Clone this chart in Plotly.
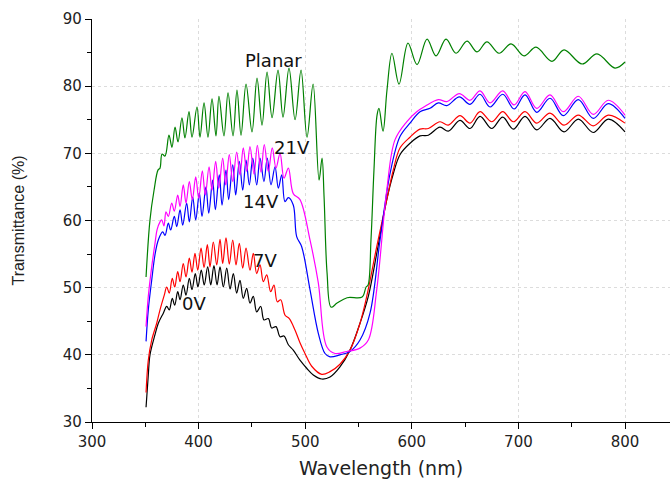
import plotly.graph_objects as go

# ---------------- data ----------------
planar_nm = [350.7, 354.4, 358.2, 361.9, 363.8, 365.7, 368.5, 372.2, 375.0, 377.9, 380.7, 384.4, 387.2,
             391.0, 393.8, 398.5, 401.3, 405.1, 408.8, 412.6, 416.3, 419.1, 423.8, 427.6, 432.3, 436.0,
             439.8, 444.5, 450.1, 454.8, 459.5, 464.2, 468.9, 474.5, 479.2, 484.8, 490.5, 496.1, 501.7,
             507.4, 513.0, 515.8, 517.7, 520.5, 524.3, 529.9, 539.3, 553.4, 557.1, 559.0, 561.7, 564.5,
             567.4, 569.2, 573.0, 576.7, 581.4, 588.0, 596.4, 604.9, 614.3, 622.7, 632.1, 641.5, 651.8,
             661.2, 670.5, 681.8, 693.1, 705.3, 716.5, 731.5, 742.8, 759.7, 773.7, 790.6, 800.0]
planar_T = [51.6, 60.1, 64.5, 67.5, 67.8, 69.9, 69.6, 72.7, 70.9, 73.9, 71.7, 75.3, 72.3,
            76.2, 72.4, 76.9, 72.4, 77.5, 72.4, 78.1, 72.6, 78.5, 72.6, 79.0, 72.6, 79.4,
            72.7, 80.3, 73.2, 81.2, 74.2, 82.1, 75.3, 82.4, 75.4, 82.7, 75.0, 82.4, 72.4,
            80.3, 66.0, 69.3, 63.5, 52.2, 47.1, 47.7, 48.5, 48.6, 50.1, 50.4, 57.1, 67.5,
            75.7, 76.7, 73.3, 79.4, 84.9, 80.3, 86.4, 83.2, 87.0, 84.5, 87.0, 84.9, 86.7,
            85.1, 86.6, 84.9, 86.3, 84.5, 85.8, 83.7, 85.4, 83.3, 84.8, 82.7, 83.6]

v21_nm = [350.7, 352.8, 356.0, 359.1, 361.0, 363.8, 365.4, 367.5, 369.4, 371.6, 374.8, 377.2, 380.4,
          382.6, 385.6, 388.2, 391.3, 394.1, 397.3, 400.1, 403.5, 406.3, 409.8, 412.6, 416.0, 418.9,
          422.6, 425.4, 428.8, 432.0, 435.7, 438.8, 441.9, 445.1, 448.2, 452.0, 455.1, 458.5, 461.6,
          465.4, 469.1, 472.6, 476.4, 480.1, 484.2, 488.8, 495.1, 504.5, 512.3, 520.2, 528.0, 538.9,
          551.4, 559.2, 567.1, 576.5, 584.2, 595.2, 604.6, 612.4, 624.9, 632.8, 644.6, 654.6, 664.0,
          673.4, 685.3, 695.9, 706.2, 717.2, 729.6, 742.1, 756.2, 770.2, 784.3, 800.0]
v21_T = [44.2, 48.7, 53.1, 56.6, 58.6, 59.8, 60.1, 59.2, 61.3, 60.6, 62.6, 61.4, 63.8,
         62.1, 65.3, 62.6, 65.8, 63.1, 66.5, 63.3, 67.4, 63.8, 68.0, 64.5, 68.8, 64.8,
         69.3, 65.3, 69.8, 65.8, 70.2, 66.8, 70.8, 67.3, 71.0, 66.9, 71.2, 67.2, 71.3,
         67.3, 70.8, 67.8, 70.0, 66.3, 67.8, 64.0, 63.1, 57.1, 50.7, 41.2, 40.2, 40.5,
         41.0, 42.2, 49.7, 64.5, 72.0, 74.7, 76.2, 77.0, 78.0, 77.7, 78.9, 77.9, 79.3,
         77.5, 79.3, 77.2, 79.2, 76.7, 78.7, 76.2, 78.5, 75.8, 77.9, 75.7]

v14_nm = [350.7, 352.8, 356.0, 359.1, 362.2, 366.3, 368.5, 371.6, 373.8, 377.2, 379.5, 382.6, 385.1,
          388.8, 391.3, 394.5, 397.3, 400.7, 403.2, 406.9, 409.5, 413.2, 415.7, 419.4, 422.0, 425.7,
          428.2, 432.0, 434.8, 438.2, 441.4, 444.5, 447.6, 450.8, 454.5, 457.6, 461.3, 464.4, 467.9,
          471.7, 474.8, 478.0, 481.0, 484.2, 488.8, 492.0, 496.7, 504.5, 512.3, 518.6, 523.3, 532.6,
          542.0, 551.4, 560.8, 570.2, 579.6, 588.9, 598.3, 607.7, 617.1, 624.9, 632.8, 644.6, 654.6,
          664.0, 673.4, 685.3, 695.9, 706.2, 717.2, 729.6, 742.1, 756.2, 770.2, 784.3, 800.0]
v14_T = [42.0, 46.7, 51.1, 54.9, 57.1, 58.3, 57.8, 59.6, 58.6, 60.6, 59.1, 61.6, 59.3,
         62.6, 59.8, 63.5, 60.1, 64.1, 60.6, 65.0, 61.1, 66.0, 61.6, 66.8, 62.3, 67.5,
         63.1, 68.3, 63.8, 68.8, 64.5, 69.0, 65.3, 69.3, 65.3, 69.3, 65.8, 69.3, 65.3,
         68.0, 64.8, 66.8, 62.8, 63.4, 62.3, 57.6, 56.1, 49.7, 43.2, 40.2, 39.7, 40.0,
         40.5, 42.2, 46.2, 57.1, 67.0, 72.5, 74.5, 76.2, 76.7, 77.5, 77.1, 78.4, 77.3,
         78.8, 76.9, 78.8, 76.6, 78.7, 76.1, 78.2, 75.6, 78.0, 75.2, 77.4, 75.2]

v7_nm = [350.7, 352.8, 356.0, 360.7, 363.8, 367.8, 370.1, 372.5, 375.3, 377.6, 380.4, 382.6, 385.6,
         388.2, 391.3, 393.8, 396.6, 399.2, 402.3, 405.1, 408.2, 410.7, 413.8, 417.0, 420.1, 422.6,
         425.7, 428.8, 432.0, 435.1, 438.2, 441.4, 444.5, 448.2, 451.3, 454.5, 457.6, 460.7, 463.9,
         467.6, 470.7, 473.8, 477.0, 481.1, 485.1, 490.4, 495.1, 499.8, 506.1, 515.5, 523.3, 532.6,
         542.0, 551.4, 557.7, 567.1, 576.5, 582.6, 588.9, 598.3, 607.7, 615.5, 626.4, 634.2, 645.2,
         654.6, 664.0, 675.0, 685.3, 695.2, 706.2, 717.2, 729.6, 742.8, 756.2, 770.2, 784.3, 800.0]
v7_T = [34.4, 39.2, 42.2, 44.7, 46.7, 48.9, 50.1, 49.2, 51.4, 50.1, 52.4, 50.9, 53.6,
        51.6, 54.4, 52.3, 55.1, 52.6, 55.9, 53.0, 56.4, 53.1, 56.8, 53.4, 57.2, 53.6,
        57.4, 53.5, 57.1, 53.4, 56.6, 52.9, 55.9, 52.6, 55.1, 52.1, 53.4, 50.9, 51.9,
        49.4, 50.4, 47.9, 48.2, 45.9, 45.4, 43.7, 41.8, 40.2, 38.3, 37.1, 37.5, 38.6,
        40.7, 44.7, 48.7, 56.1, 63.1, 67.5, 70.8, 72.4, 73.6, 73.7, 74.7, 74.2, 75.6,
        74.5, 76.2, 74.7, 76.2, 74.7, 76.2, 74.5, 76.0, 74.2, 75.7, 74.1, 75.7, 74.5]

v0_nm = [350.7, 352.8, 354.4, 359.1, 362.2, 366.9, 370.1, 372.5, 375.3, 377.6, 380.4, 382.6, 385.6,
         388.2, 391.3, 393.8, 396.9, 399.4, 402.5, 405.3, 408.5, 411.4, 414.4, 417.3, 420.1, 423.2,
         426.4, 429.5, 432.6, 435.7, 438.8, 441.9, 445.1, 448.2, 451.3, 454.5, 458.3, 461.3, 465.4,
         468.6, 472.6, 476.4, 480.1, 484.2, 488.8, 495.1, 501.4, 507.6, 515.5, 523.3, 532.6, 542.0,
         551.4, 559.2, 567.1, 576.5, 582.7, 588.9, 598.3, 607.7, 615.5, 626.4, 634.2, 645.2, 654.6,
         664.0, 675.0, 685.3, 695.2, 706.2, 717.2, 729.6, 742.8, 756.2, 770.2, 784.3, 800.0]
v0_T = [32.2, 37.0, 40.0, 43.0, 44.7, 46.2, 47.2, 46.7, 48.4, 47.4, 49.4, 48.2, 50.4,
        48.9, 51.4, 49.7, 52.1, 50.1, 52.6, 50.4, 53.1, 50.4, 53.3, 50.4, 53.1, 50.1,
        52.9, 49.8, 52.1, 49.2, 51.1, 48.4, 49.9, 47.7, 48.7, 46.4, 47.2, 45.2, 45.4,
        44.0, 44.2, 42.7, 42.8, 41.5, 40.7, 39.2, 38.0, 37.0, 36.4, 36.7, 38.2, 40.7,
        44.7, 48.7, 55.1, 63.1, 67.0, 69.8, 71.5, 72.6, 72.7, 73.9, 73.3, 74.9, 73.7,
        75.5, 73.7, 75.4, 73.6, 75.5, 73.5, 75.2, 73.2, 75.1, 73.1, 75.1, 73.2]

label_text = ["Planar", "21V", "14V", "7V", "0V"]
label_nm = [470.7, 487.6, 458.1, 462.3, 395.4]
label_T = [83.8, 70.8, 62.9, 54.0, 47.7]

series = [
    (v0_nm, v0_T, "#000000", "0V"),
    (v7_nm, v7_T, "#ff0000", "7V"),
    (v14_nm, v14_T, "#0000ff", "14V"),
    (v21_nm, v21_T, "#ff00ff", "21V"),
    (planar_nm, planar_T, "#008000", "Planar"),
]

fig = go.Figure()
for xs, ys, col, name in series:
    fig.add_trace(go.Scatter(x=xs, y=ys, mode="lines", name=name,
                             line=dict(color=col, width=1.2, shape="spline", smoothing=1.0)))

for t, xv, yv in zip(label_text, label_nm, label_T):
    fig.add_annotation(x=xv, y=yv, text=t, showarrow=False, xanchor="center", yanchor="middle",
                       font=dict(family="DejaVu Sans", size=18, color="#111111"))

axis_common = dict(showline=True, linecolor="black", linewidth=1.3, ticks="outside",
                   ticklen=6, tickwidth=1.3, tickcolor="black", showgrid=True,
                   gridcolor="#dcdcdc", griddash="dot", gridwidth=1, zeroline=False,
                   automargin=False,
                   tickfont=dict(family="DejaVu Sans", size=15, color="#222222"))

fig.update_xaxes(range=[300, 842.2], dtick=100, tick0=300,
                 minor=dict(dtick=50, ticklen=4, tickwidth=1.3, tickcolor="black", showgrid=False),
                 title=dict(text="Wavelength (nm)", standoff=14,
                            font=dict(family="DejaVu Sans", size=19, color="#222222")),
                 **axis_common)
fig.update_yaxes(range=[30, 90], dtick=10, tick0=30,
                 minor=dict(dtick=5, ticklen=4, tickwidth=1.3, tickcolor="black", showgrid=False),
                 title=dict(text="Transmittance (%)", standoff=34,
                            font=dict(family="Liberation Sans, Arial", size=16, color="#222222")),
                 **axis_common)

fig.update_layout(width=670, height=479, margin=dict(l=92, r=0, t=19, b=57),
                  paper_bgcolor="white", plot_bgcolor="white", showlegend=False)

fig.write_html("out.html", config={"displayModeBar": False},
               post_script="document.body.style.margin='0px';document.body.style.overflow='hidden';")
